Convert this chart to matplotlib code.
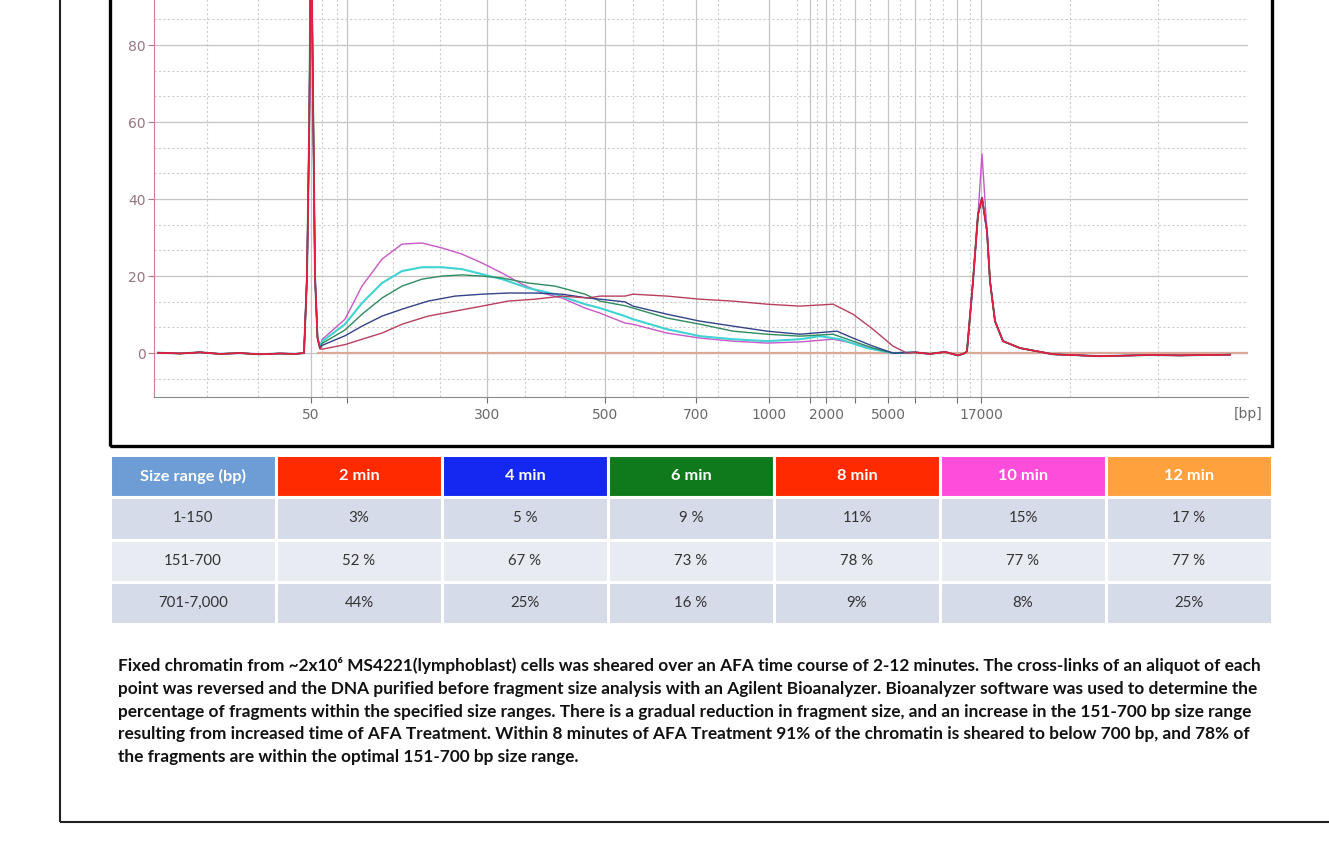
import matplotlib
matplotlib.use('Agg')
import matplotlib.pyplot as plt
from matplotlib.patches import Rectangle
from matplotlib.ticker import FixedLocator, MultipleLocator

W, H = 1329, 844

# ladder: migration time (s) at which each ladder size elutes
ladder_time = [31.1, 34.7, 48.7, 60.5, 69.6, 76.9, 81.0, 82.6, 85.5, 88.8, 91.5, 95.7, 98.1]
ladder_label = ['50', '', '300', '500', '700', '1000', '', '2000', '', '5000', '', '', '17000']
minor_time = [20.7, 25.8, 32.2, 33.7, 39.3, 44.0, 52.5, 56.5, 63.3, 66.3, 71.8, 79.7,
              81.7, 83.3, 84.0, 87.0, 90.0, 93.0, 94.3, 97.0, 107.0, 115.8]
fu_ticks = [0, 20, 40, 60, 80]

# lower marker (50 bp) + baseline, shared by all runs
lo_t = [15.8, 18.0, 20.0, 22.0, 24.0, 26.0, 28.0, 29.5, 30.4, 30.7, 30.93, 31.1, 31.33, 31.5, 31.75, 32.0]
lo_v = [0.1, -0.1, 0.2, -0.2, 0.0, -0.3, -0.1, -0.2, 0.0, 20, 60, 115, 60, 20, 4, 1.2]

# upper marker (17000 bp) + tail, shared by all runs
hi_t = [91.5, 93.0, 94.5, 95.8, 96.5, 96.7, 97.3, 97.8, 98.2, 98.7, 99.0, 99.5, 100.3, 102.0,
        105.3, 110.0, 115.0, 118.0, 123.0]
hi_v = [0.2, -0.2, 0.3, -0.6, 0.0, 0.5, 18.7, 36.0, 40.3, 31.7, 18.7, 8.3, 3.1, 1.3,
        -0.3, -0.8, -0.5, -0.6, -0.4]

# smear region of each run
mag_t = [32.2, 34.5, 36.2, 38.2, 40.2, 42.2, 44.2, 46.2, 48.2, 50.2, 52.2, 54.2, 56.2, 58.5, 60.0,
         62.5, 63.3, 66.7, 70.0, 73.3, 76.7, 80.0, 83.3, 85.3, 87.3, 89.3]
mag_v = [3.5, 8.8, 17.4, 24.4, 28.3, 28.6, 27.3, 25.7, 23.4, 20.8, 17.9, 15.6, 14.3, 11.7, 10.4,
         7.8, 7.5, 5.2, 3.9, 3.1, 2.6, 2.9, 3.6, 2.6, 1.0, 0.0]
mag_peak = 51.7

cya_t = [32.2, 34.5, 36.2, 38.2, 40.2, 42.2, 44.2, 46.2, 48.2, 50.2, 52.8, 55.5, 58.5, 60.0, 62.5,
         63.3, 66.7, 70.0, 73.3, 76.7, 80.0, 82.0, 84.0, 86.7, 89.3]
cya_v = [3.0, 7.5, 13.0, 18.2, 21.3, 22.3, 22.3, 21.8, 20.5, 19.2, 16.9, 15.3, 12.7, 11.7, 9.6,
         8.8, 6.2, 4.4, 3.6, 3.1, 3.6, 4.4, 3.6, 1.3, 0.0]

grn_t = [32.2, 34.5, 36.2, 38.2, 40.2, 42.2, 44.2, 46.2, 48.2, 50.2, 52.8, 55.5, 58.5, 60.0, 62.5,
         63.3, 66.7, 70.0, 73.3, 76.7, 80.0, 83.3, 85.3, 87.3, 89.3]
grn_v = [2.5, 6.0, 10.1, 14.3, 17.4, 19.2, 20.0, 20.3, 20.0, 19.5, 18.2, 17.4, 15.3, 13.5, 12.3,
         11.7, 9.1, 7.5, 5.7, 4.9, 4.4, 4.9, 3.1, 1.3, 0.0]

nav_t = [32.2, 34.5, 36.2, 38.2, 40.2, 42.8, 45.5, 48.2, 50.8, 53.5, 56.2, 58.8, 60.0, 62.5, 63.3,
         66.7, 70.0, 73.3, 76.7, 80.0, 83.7, 85.3, 87.3, 89.3]
nav_v = [2.0, 4.5, 7.0, 9.6, 11.4, 13.5, 14.8, 15.3, 15.6, 15.6, 15.3, 14.3, 14.0, 13.3, 12.2,
         10.1, 8.3, 7.0, 5.7, 4.9, 5.7, 3.9, 1.8, 0.0]

ros_t = [32.2, 34.5, 36.2, 38.2, 40.2, 42.8, 45.5, 48.2, 50.8, 53.5, 56.2, 58.8, 60.0, 62.5, 63.3,
         66.7, 70.0, 73.3, 76.7, 80.0, 83.3, 85.3, 87.3, 89.3, 90.7]
ros_v = [1.0, 2.2, 3.6, 5.2, 7.5, 9.6, 10.9, 12.2, 13.5, 14.0, 14.8, 14.3, 14.8, 14.8, 15.3,
         14.8, 14.0, 13.5, 12.7, 12.2, 12.7, 10.1, 6.2, 1.8, 0.0]

flat_t = [31.8, 124.8]
flat_v = [0.0, 0.0]

# table
size_ranges = ['1-150', '151-700', '701-7,000']
times = ['2 min', '4 min', '6 min', '8 min', '10 min', '12 min']
pct_150 = ['3%', '5 %', '9 %', '11%', '15%', '17 %']
pct_700 = ['52 %', '67 %', '73 %', '78 %', '77 %', '77 %']
pct_7000 = ['44%', '25%', '16 %', '9%', '8%', '25%']
head_colors = ['#6d9dd4', '#ff2a00', '#1428f2', '#0f7a1c', '#ff2a00', '#ff4ddb', '#ffa23e']

caption = [
    'Fixed chromatin from ~2x10\u2076 MS4221(lymphoblast) cells was sheared over an AFA time course of 2-12 minutes. The cross-links of an aliquot of each',
    'point was reversed and the DNA purified before fragment size analysis with an Agilent Bioanalyzer. Bioanalyzer software was used to determine the',
    'percentage of fragments within the specified size ranges. There is a gradual reduction in fragment size, and an increase in the 151-700 bp size range',
    'resulting from increased time of AFA Treatment. Within 8 minutes of AFA Treatment 91% of the chromatin is sheared to below 700 bp, and 78% of',
    'the fragments are within the optimal 151-700 bp size range.',
]

fig = plt.figure(figsize=(W / 100, H / 100), dpi=100)

# outer page frame and chart box (both run off the top of the crop)
fig.patches.append(Rectangle((60 / W, 1 - 822 / H), 1.2, 1.2, transform=fig.transFigure,
                             fill=False, ec='#222222', lw=1.5))
fig.patches.append(Rectangle((110 / W, 1 - 446 / H), 1162 / W, 0.8, transform=fig.transFigure,
                             fill=False, ec='black', lw=2.4))

ax = fig.add_axes([154 / W, 1 - 397 / H, 1094 / W, 429 / H])
ax.set_xlim(15.4, 124.8)
ax.set_ylim(-11.4, 100)

ax.plot(flat_t, flat_v, color='#dca898', lw=1.6)
runs = [(mag_t, mag_v, '#c957c9', 1.0), (cya_t, cya_v, '#3fd3d3', 1.5),
        (grn_t, grn_v, '#2f8a60', 1.0), (nav_t, nav_v, '#34428a', 1.0),
        (ros_t, ros_v, '#b8405e', 1.0)]
for t, v, c, lw in runs:
    tail_v = list(hi_v)
    if c == '#c957c9':
        tail_v[hi_v.index(max(hi_v))] = mag_peak
    ax.plot(lo_t + t + hi_t, lo_v + v + tail_v, color=c, lw=lw)
# red trace on top at the markers
ax.plot(lo_t, lo_v, color='#e41e3c', lw=1.2)
ax.plot(hi_t, hi_v, color='#e41e3c', lw=1.2)

ax.set_xticks(ladder_time)
ax.set_xticklabels(ladder_label)
ax.xaxis.set_minor_locator(FixedLocator(minor_time))
ax.set_yticks(fu_ticks)
ax.yaxis.set_minor_locator(MultipleLocator(20 / 3))
ax.grid(which='major', color='#c4c4c4', lw=0.9)
ax.grid(which='minor', color='#cdcdcd', lw=0.8, ls=(0, (2, 2)))
ax.set_axisbelow(True)
ax.tick_params(which='minor', length=0)
ax.tick_params(axis='x', which='major', length=4, color='#707070', labelcolor='#6a6a6a',
               labelsize=10, pad=4)
ax.tick_params(axis='y', which='major', length=4, color='#b07888', labelcolor='#9a7482',
               labelsize=10, pad=2)
for s in ['top', 'right']:
    ax.spines[s].set_visible(False)
ax.spines['left'].set_color('#c8809a')
ax.spines['bottom'].set_color('#8a8a8a')
ax.annotate('[bp]', xy=(1.0, 0), xycoords='axes fraction', xytext=(0, -12),
            textcoords='offset points', ha='center', va='center', fontsize=10, color='#6a6a6a')

# table
tax = fig.add_axes([110 / W, 1 - 624 / H, 1162 / W, 169 / H])
tax.axis('off')
rows = [[size_ranges[i]] + vals for i, vals in enumerate([pct_150, pct_700, pct_7000])]
tbl = tax.table(cellText=rows, colLabels=['Size range (bp)'] + times, bbox=[0, 0, 1, 1],
                cellLoc='center')
tbl.auto_set_font_size(False)
body_bg = ['#d5dbe8', '#e8ebf2', '#d5dbe8']
for (r, c), cell in tbl.get_celld().items():
    cell.set_edgecolor('white')
    cell.set_linewidth(2.2)
    txt = cell.get_text()
    txt.set_fontfamily(['Lato', 'DejaVu Sans'])
    if r == 0:
        cell.set_facecolor(head_colors[c])
        txt.set_color('white')
        txt.set_fontweight('bold')
        txt.set_fontsize(11.8)
    else:
        cell.set_facecolor(body_bg[r - 1])
        txt.set_color('#333333')
        txt.set_fontsize(10.8)

# caption
cap_texts = []
for i, line in enumerate(caption):
    cap_texts.append(fig.text(118 / W, 1 - (666 + i * 22.8) / H, line, fontsize=11,
                              fontweight='bold', family=['Lato', 'DejaVu Sans'],
                              color='#111111', ha='left', va='center'))
fig.canvas.draw()
w = cap_texts[0].get_window_extent(fig.canvas.get_renderer()).width
for t in cap_texts:
    t.set_fontsize(11 * 1142 / w)

fig.savefig('out.png', dpi=100)
